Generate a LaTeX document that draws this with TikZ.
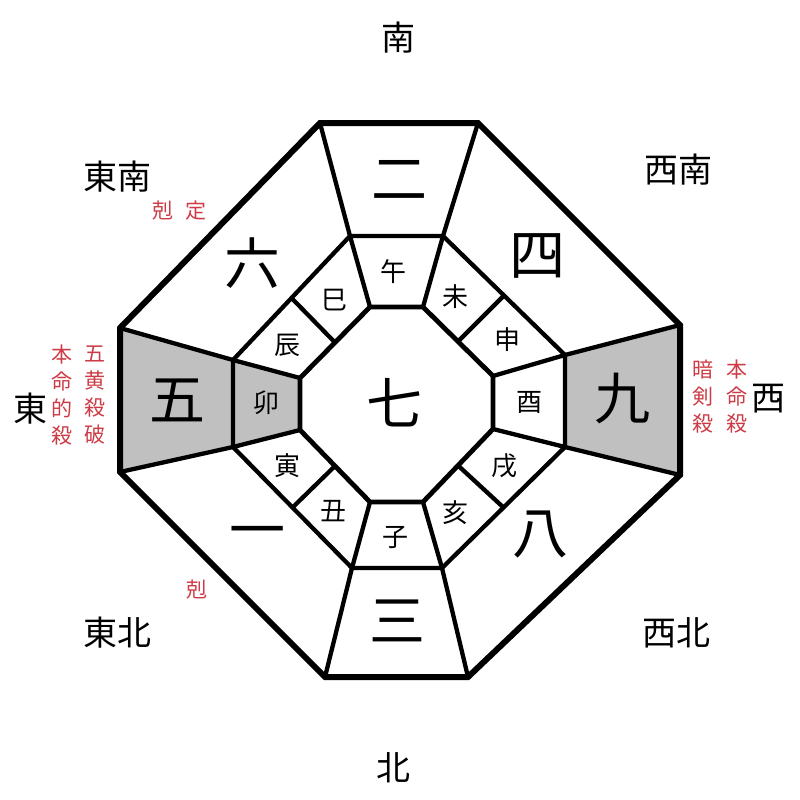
\documentclass[tikz,border=0pt]{standalone}
\usepackage{fontspec}
\usetikzlibrary{calc}
\newfontfamily\cjk{Noto Sans CJK JP}
\definecolor{cellgray}{RGB}{192,192,192}
\definecolor{redtext}{RGB}{205,60,70}
\tikzset{
  outerline/.style={line width=6pt, line join=miter},
  innerline/.style={line width=4.3pt, line join=miter},
  dirlabel/.style={font=\cjk\fontsize{34}{34}\selectfont, inner sep=0pt},
  bignum/.style={font=\cjk\fontsize{56}{56}\selectfont, inner sep=0pt},
  zodiac/.style={font=\cjk\fontsize{26}{26}\selectfont, inner sep=0pt},
  redlabel/.style={font=\cjk\fontsize{21}{21}\selectfont, text=redtext, inner sep=0pt},
}
\begin{document}
\begin{tikzpicture}[x=1pt,y=-1pt]
\useasboundingbox (0,0) rectangle (800,800);
\fill[white] (0,0) rectangle (800,800);
% outer octagon
\coordinate (O1) at (320,123);
\coordinate (O2) at (478,123);
\coordinate (O3) at (680,325);
\coordinate (O4) at (680,475);
\coordinate (O5) at (468,677);
\coordinate (O6) at (325,677);
\coordinate (O7) at (120,472);
\coordinate (O8) at (120,328);
% middle octagon
\coordinate (M1) at (350,236);
\coordinate (M2) at (443,236);
\coordinate (M3) at (565,355);
\coordinate (M4) at (565,447);
\coordinate (M5) at (442,568);
\coordinate (M6) at (352,568);
\coordinate (M7) at (233,447);
\coordinate (M8) at (233,360);
% inner octagon
\coordinate (I1) at (370,307);
\coordinate (I2) at (423,307);
\coordinate (I3) at (493,376);
\coordinate (I4) at (493,429);
\coordinate (I5) at (423,502);
\coordinate (I6) at (370,502);
\coordinate (I7) at (300,430);
\coordinate (I8) at (300,378);
% gray cells
\fill[cellgray] (O8) -- (O7) -- (M7) -- (M8) -- cycle;
\fill[cellgray] (M8) -- (M7) -- (I7) -- (I8) -- cycle;
\fill[cellgray] (O3) -- (O4) -- (M4) -- (M3) -- cycle;
% radial lines outer-middle
\foreach \i in {1,...,8} { \draw[innerline] (O\i) -- (M\i); }
% radial lines middle-inner
\foreach \i in {1,...,8} { \draw[innerline] (M\i) -- (I\i); }
% diagonal dividers
\draw[innerline] ($(M2)!0.5!(M3)$) -- ($(I2)!0.5!(I3)$);
\draw[innerline] ($(M4)!0.5!(M5)$) -- ($(I4)!0.5!(I5)$);
\draw[innerline] ($(M6)!0.5!(M7)$) -- ($(I6)!0.5!(I7)$);
\draw[innerline] ($(M8)!0.5!(M1)$) -- ($(I8)!0.5!(I1)$);
% octagons
\draw[innerline] (M1) -- (M2) -- (M3) -- (M4) -- (M5) -- (M6) -- (M7) -- (M8) -- cycle;
\draw[line width=4.8pt] (I1) -- (I2) -- (I3) -- (I4) -- (I5) -- (I6) -- (I7) -- (I8) -- cycle;
\draw[outerline] (O1) -- (O2) -- (O3) -- (O4) -- (O5) -- (O6) -- (O7) -- (O8) -- cycle;
% direction labels
\node[dirlabel] (s) at (398,38) {南};
\node[dirlabel] (n) at (393,768) {北};
\node[dirlabel] (e) at (30,409) {東};
\node[dirlabel] (w) at (768,399) {西};
\node[dirlabel] (se) at (117,177) {東南};
\node[dirlabel] (sw) at (678,170) {西南};
\node[dirlabel] (ne) at (117,633) {東北};
\node[dirlabel] (nw) at (676,633) {西北};
% numbers
\node[bignum] (n2) at (399,180) {二};
\node[bignum] (n4) at (537,256) {四};
\node[bignum] (n6) at (252,263) {六};
\node[bignum] (n5) at (177,400) {五};
\node[bignum] (n9) at (622,399) {九};
\node[bignum] (n1) at (257,538) {一};
\node[bignum] (n8) at (540,535) {八};
\node[bignum] (n3) at (397,621) {三};
\node[bignum] (n7) at (394,403) {七};
% zodiac
\node[zodiac] (z1) at (393,272) {午};
\node[zodiac] (z2) at (455,297) {未};
\node[zodiac] (z3) at (507,340) {申};
\node[zodiac] (z4) at (529,402) {酉};
\node[zodiac] (z5) at (504,466) {戌};
\node[zodiac] (z6) at (455,513) {亥};
\node[zodiac] (z7) at (395,537) {子};
\node[zodiac] (z8) at (333,511) {丑};
\node[zodiac] (z9) at (287,466) {寅};
\node[zodiac] (z10) at (266,403) {卯};
\node[zodiac] (z11) at (287,345) {辰};
\node[zodiac] (z12) at (334,300) {巳};
% red labels
\node[redlabel] (r1) at (163,211) {剋};
\node[redlabel] (r2) at (196,211) {定};
\node[redlabel] (r3) at (197,590) {剋};
\node[redlabel, align=center] (r4) at (62,395) {本\\[6pt]命\\[6pt]的\\[6pt]殺};
\node[redlabel, align=center] (r5) at (95,395) {五\\[6pt]黄\\[6pt]殺\\[6pt]破};
\node[redlabel, align=center] (r6) at (703,397) {暗\\[6pt]剣\\[6pt]殺};
\node[redlabel, align=center] (r7) at (737,397) {本\\[6pt]命\\[6pt]殺};
\end{tikzpicture}
\end{document}
